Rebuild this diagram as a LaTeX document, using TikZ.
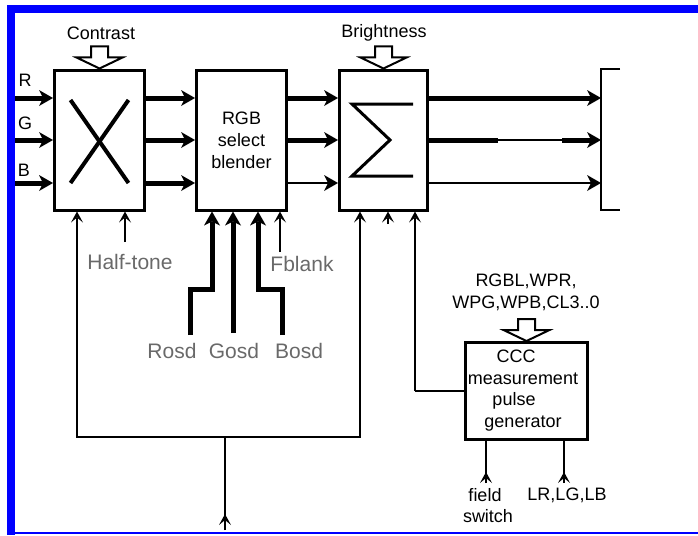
\documentclass[tikz,border=0pt]{standalone}
\usepackage{fontspec}
\setmainfont{Liberation Sans}
\usepackage{xcolor}
\usetikzlibrary{arrows.meta,calc}

\definecolor{framblue}{RGB}{0,0,255}
\definecolor{lblgray}{RGB}{105,105,105}

\tikzset{
  blk/.style={draw, line width=3pt, fill=white, inner sep=0pt},
  bus/.style={line width=5pt},
  medline/.style={line width=2.8pt},
  thinline/.style={line width=1.6pt},
  bigtip/.style={-{Stealth[length=14pt,width=16pt,inset=4pt,line width=0pt]}},
  smalltip/.style={-{Stealth[length=11pt,width=12pt,inset=5pt,line width=0pt]}},
  lbl/.style={font=\fontsize{18}{21.5}\selectfont, inner sep=0pt, align=center},
  glbl/.style={font=\fontsize{21}{24}\selectfont, text=lblgray, inner sep=0pt},
  hollow/.pic={
    \draw[line width=2pt, fill=white]
      (-8.5,-22) -- (8.5,-22) -- (8.5,-11) -- (23,-11) -- (0,0)
      -- (-23,-11) -- (-8.5,-11) -- cycle;
  }
}

\begin{document}
\begin{tikzpicture}[x=1pt, y=-1pt]
  \useasboundingbox (0,0) rectangle (698,535);
  % blue frame
  \fill[framblue] (7,5) rectangle (698,13);
  \fill[framblue] (7,5) rectangle (15,535);
  \fill[framblue] (7,532) rectangle (698,534);

  % blocks
  \node[blk, minimum width=90pt, minimum height=140pt] (cx)  at (99.5,140) {};
  \node[blk, minimum width=90pt, minimum height=140pt] (rgb) at (241.5,140)
    {\parbox{80pt}{\centering\fontsize{18}{22}\selectfont RGB\\select\\blender}};
  \node[blk, minimum width=88pt, minimum height=140pt] (sig) at (383.5,140) {};
  \node[blk, minimum width=122pt, minimum height=97pt] (ccc) at (526.5,391) {};
  \node[lbl, font=\fontsize{18}{21.5}\selectfont] (ccct) at (523,390.5)
    {\hspace*{-14pt}CCC\\measurement\\\hspace*{-18pt}pulse\\generator};

  % cross and sigma
  \draw[line width=4pt] ($(cx)+(-29,-40)$) -- ($(cx)+(29,43)$);
  \draw[line width=4pt] ($(cx)+(29,-40)$) -- ($(cx)+(-29,43)$);
  \draw[line width=3pt, line join=miter]
    ($(sig)+(29.5,-36)$) -- ($(sig)+(-31.5,-36)$) -- ($(sig)+(6.5,0)$)
    -- ($(sig)+(-31.5,36)$) -- ($(sig)+(29.5,36)$);

  % right bracket
  \coordinate (brt) at (601,69);
  \coordinate (brb) at (601,210);
  \draw[line width=2.6pt] (620,69) -- (brt) -- (brb) -- (620,210);

  % inputs
  \coordinate (inR) at (15,98);
  \coordinate (inG) at (15,140);
  \coordinate (inB) at (15,183);
  \node[lbl] (lR) at (25,80) {R};
  \node[lbl] (lG) at (25,123) {G};
  \node[lbl] (lB) at (24,170) {B};
  \foreach \c in {inR,inG,inB}{
    \draw[bus, bigtip] (\c) -- (\c -| cx.west);
    \draw[bus, bigtip] (\c -| cx.east) -- (\c -| rgb.west);
  }
  \draw[bus, bigtip] (inR -| rgb.east) -- (inR -| sig.west);
  \draw[bus, bigtip] (inG -| rgb.east) -- (inG -| sig.west);
  \draw[medline, bigtip] (inB -| rgb.east) -- (inB -| sig.west);

  % outputs to bracket
  \draw[bus, bigtip] (inR -| sig.east) -- (inR -| brt);
  \draw[bus] (inG -| sig.east) -- (498,140);
  \draw[medline] (498,140) -- (562,140);
  \draw[bus, bigtip] (562,140) -- (inG -| brt);
  \draw[medline, bigtip] (inB -| sig.east) -- (inB -| brt);

  % control inputs on top
  \pic at (cx.north) {hollow};
  \pic at (sig.north) {hollow};
  \pic at (ccc.north) {hollow};
  \node[lbl] (lcon) at (101,33) {Contrast};
  \node[lbl] (lbri) at (384,33) {Brightness};
  \node[lbl] (lwp) at (526,292.5) {RGBL,WPR,\\WPG,WPB,CL3..0};

  % half-tone
  \coordinate (ht) at (125,242);
  \draw[medline, smalltip] (ht) -- (ht |- cx.south);
  \node[glbl] (lht) at (130,262) {Half-tone};

  % osd inputs
  \coordinate (ro) at (190,335);
  \coordinate (go) at (233,333);
  \coordinate (bo) at (282,335);
  \coordinate (fb) at (280,252);
  \draw[bus, bigtip, line join=miter] (ro) -- (190,289) -- (212,289) -- (212,0 |- rgb.south);
  \draw[bus, bigtip] (go) -- (go |- rgb.south);
  \draw[bus, bigtip, line join=miter] (bo) -- (282,289) -- (258,289) -- (258,0 |- rgb.south);
  \draw[medline, smalltip] (fb) -- (fb |- rgb.south);
  \node[glbl] (lro) at (172,351) {Rosd};
  \node[glbl] (lgo) at (234,351) {Gosd};
  \node[glbl] (lbo) at (299,351) {Bosd};
  \node[glbl] (lfb) at (302,264) {Fblank};

  % common loop from below
  \coordinate (jn) at (225,437);
  \coordinate (lpl) at (77,437);
  \coordinate (lpr) at (360,437);
  \coordinate (bt) at (225,530);
  \draw[thinline, smalltip] (jn) -- (lpl) -- (lpl |- cx.south);
  \draw[thinline, smalltip] (jn) -- (lpr) -- (lpr |- sig.south);
  \draw[medline] (bt) -- (jn);
  \draw[medline, smalltip] (bt) -- ++(0,-16);

  % stray tip under sigma
  \draw[thinline, smalltip] (388,224) -- (388,0 |- sig.south);

  % ccc to sigma
  \coordinate (ck) at (415,391);
  \draw[thinline] (ccc.west) -- (ck);
  \draw[medline, smalltip] (ck) -- (ck |- sig.south);

  % ccc outputs
  \coordinate (fs) at (486,483);
  \coordinate (lr) at (564,483);
  \draw[thinline] (fs |- ccc.south) -- (fs);
  \draw[thinline, smalltip] (fs) -- ++(0,-11);
  \draw[thinline] (lr |- ccc.south) -- (lr);
  \draw[thinline, smalltip] (lr) -- ++(0,-11);
  \node[lbl] (lfs) at (485,505.5) {field\\\hspace*{6pt}switch};
  \node[lbl] (llr) at (567,495) {LR,LG,LB};
\end{tikzpicture}
\end{document}
